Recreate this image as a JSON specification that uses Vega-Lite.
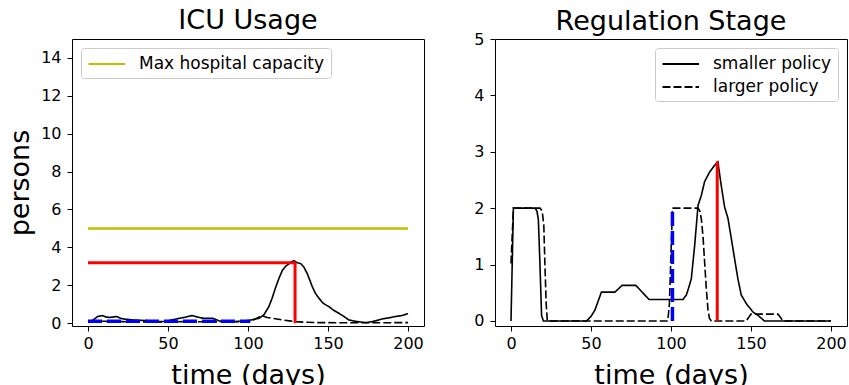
{
  "$schema": "https://vega.github.io/schema/vega-lite/v6.json",
  "background": "white",
  "padding": {"left": 6, "top": 6, "right": 0, "bottom": 0},
  "spacing": 48,
  "config": {
    "view": {"stroke": "black", "strokeWidth": 1},
    "axis": {
      "domain": false, "grid": false,
      "labelFont": "DejaVu Sans", "labelFontSize": 16, "labelColor": "black",
      "tickColor": "black", "tickSize": 5, "tickWidth": 1, "labelPadding": 4,
      "titleFont": "DejaVu Sans", "titleFontSize": 27, "titleFontWeight": "normal", "titleColor": "black"
    },
    "title": {"font": "DejaVu Sans", "fontSize": 27, "fontWeight": "normal", "color": "black", "frame": "group"},
    "legend": {
      "title": null, "labelFont": "DejaVu Sans", "labelFontSize": 17, "labelColor": "black", "labelLimit": 0,
      "symbolType": "M-1,0H3.3", "symbolSize": 289, "symbolStrokeWidth": 2.2,
      "strokeColor": "#cccccc", "fillColor": "white", "cornerRadius": 3, "padding": 6,
      "offset": 9, "rowPadding": 5, "labelOffset": 32
    }
  },
  "datasets": {
    "cap": [{"day": 0, "day2": 200, "level": 5, "label": "Max hospital capacity"}],
    "icuPeak": [
      {"x": 0, "x2": 129.4, "y": 3.19, "y2": 3.19},
      {"x": 129.4, "x2": 129.4, "y": 0, "y2": 3.19}
    ],
    "icuSwitch": [{"x": 0, "x2": 101.5, "y": 0.1, "y2": 0.1}],
    "stagePeak": [{"x": 128.9, "x2": 128.9, "y": 0, "y2": 2.83}],
    "stageSwitch": [{"x": 100.9, "x2": 100.9, "y": 0, "y2": 2}],
    "icu": [
      {"day": 0, "policy": "smaller policy", "persons": 0.08},
      {"day": 3, "policy": "smaller policy", "persons": 0.15},
      {"day": 6, "policy": "smaller policy", "persons": 0.35},
      {"day": 9, "policy": "smaller policy", "persons": 0.4},
      {"day": 11, "policy": "smaller policy", "persons": 0.33},
      {"day": 13.5, "policy": "smaller policy", "persons": 0.3},
      {"day": 16, "policy": "smaller policy", "persons": 0.33},
      {"day": 18, "policy": "smaller policy", "persons": 0.35},
      {"day": 20, "policy": "smaller policy", "persons": 0.27},
      {"day": 22, "policy": "smaller policy", "persons": 0.22},
      {"day": 25, "policy": "smaller policy", "persons": 0.2},
      {"day": 28, "policy": "smaller policy", "persons": 0.17},
      {"day": 32, "policy": "smaller policy", "persons": 0.15},
      {"day": 36, "policy": "smaller policy", "persons": 0.14},
      {"day": 41, "policy": "smaller policy", "persons": 0.11},
      {"day": 46, "policy": "smaller policy", "persons": 0.08},
      {"day": 50, "policy": "smaller policy", "persons": 0.12},
      {"day": 55, "policy": "smaller policy", "persons": 0.22},
      {"day": 60, "policy": "smaller policy", "persons": 0.3},
      {"day": 65, "policy": "smaller policy", "persons": 0.4},
      {"day": 68, "policy": "smaller policy", "persons": 0.33},
      {"day": 72, "policy": "smaller policy", "persons": 0.26},
      {"day": 78, "policy": "smaller policy", "persons": 0.26},
      {"day": 82, "policy": "smaller policy", "persons": 0.12},
      {"day": 86, "policy": "smaller policy", "persons": 0.1},
      {"day": 90, "policy": "smaller policy", "persons": 0.08},
      {"day": 95, "policy": "smaller policy", "persons": 0.1},
      {"day": 100, "policy": "smaller policy", "persons": 0.14},
      {"day": 104, "policy": "smaller policy", "persons": 0.2},
      {"day": 107, "policy": "smaller policy", "persons": 0.26},
      {"day": 110, "policy": "smaller policy", "persons": 0.45},
      {"day": 113, "policy": "smaller policy", "persons": 0.87},
      {"day": 115, "policy": "smaller policy", "persons": 1.3},
      {"day": 117.4, "policy": "smaller policy", "persons": 1.92},
      {"day": 119.5, "policy": "smaller policy", "persons": 2.4},
      {"day": 121.5, "policy": "smaller policy", "persons": 2.79},
      {"day": 123.5, "policy": "smaller policy", "persons": 3.0},
      {"day": 125.7, "policy": "smaller policy", "persons": 3.14},
      {"day": 127.5, "policy": "smaller policy", "persons": 3.25},
      {"day": 128.8, "policy": "smaller policy", "persons": 3.3},
      {"day": 130, "policy": "smaller policy", "persons": 3.22},
      {"day": 131.5, "policy": "smaller policy", "persons": 3.17},
      {"day": 133, "policy": "smaller policy", "persons": 3.14},
      {"day": 135, "policy": "smaller policy", "persons": 2.95},
      {"day": 137, "policy": "smaller policy", "persons": 2.62},
      {"day": 138.5, "policy": "smaller policy", "persons": 2.3},
      {"day": 140.2, "policy": "smaller policy", "persons": 1.92},
      {"day": 142.3, "policy": "smaller policy", "persons": 1.55},
      {"day": 144.4, "policy": "smaller policy", "persons": 1.31},
      {"day": 147, "policy": "smaller policy", "persons": 1.05},
      {"day": 150.6, "policy": "smaller policy", "persons": 0.87},
      {"day": 153.5, "policy": "smaller policy", "persons": 0.68},
      {"day": 156.8, "policy": "smaller policy", "persons": 0.52},
      {"day": 160, "policy": "smaller policy", "persons": 0.35},
      {"day": 163, "policy": "smaller policy", "persons": 0.17},
      {"day": 167, "policy": "smaller policy", "persons": 0.1},
      {"day": 171.3, "policy": "smaller policy", "persons": 0.05},
      {"day": 174, "policy": "smaller policy", "persons": 0.03},
      {"day": 177.6, "policy": "smaller policy", "persons": 0.08},
      {"day": 181, "policy": "smaller policy", "persons": 0.15},
      {"day": 183.8, "policy": "smaller policy", "persons": 0.22},
      {"day": 188, "policy": "smaller policy", "persons": 0.28},
      {"day": 192.1, "policy": "smaller policy", "persons": 0.35},
      {"day": 196, "policy": "smaller policy", "persons": 0.4},
      {"day": 200, "policy": "smaller policy", "persons": 0.5},
      {"day": 0, "policy": "larger policy", "persons": 0.1},
      {"day": 10, "policy": "larger policy", "persons": 0.1},
      {"day": 20, "policy": "larger policy", "persons": 0.08},
      {"day": 40, "policy": "larger policy", "persons": 0.06},
      {"day": 60, "policy": "larger policy", "persons": 0.08},
      {"day": 80, "policy": "larger policy", "persons": 0.07},
      {"day": 100, "policy": "larger policy", "persons": 0.08},
      {"day": 104, "policy": "larger policy", "persons": 0.2},
      {"day": 107, "policy": "larger policy", "persons": 0.33},
      {"day": 109, "policy": "larger policy", "persons": 0.38},
      {"day": 112, "policy": "larger policy", "persons": 0.3},
      {"day": 115.3, "policy": "larger policy", "persons": 0.26},
      {"day": 118, "policy": "larger policy", "persons": 0.22},
      {"day": 121.5, "policy": "larger policy", "persons": 0.17},
      {"day": 126, "policy": "larger policy", "persons": 0.12},
      {"day": 129.8, "policy": "larger policy", "persons": 0.08},
      {"day": 135, "policy": "larger policy", "persons": 0.05},
      {"day": 142.3, "policy": "larger policy", "persons": 0.03},
      {"day": 160, "policy": "larger policy", "persons": 0.02},
      {"day": 180, "policy": "larger policy", "persons": 0.02},
      {"day": 200, "policy": "larger policy", "persons": 0.03}
    ],
    "stage": [
      {"day": 0, "policy": "smaller policy", "stage": 0},
      {"day": 1.5, "policy": "smaller policy", "stage": 2},
      {"day": 15, "policy": "smaller policy", "stage": 2},
      {"day": 16.2, "policy": "smaller policy", "stage": 1.95},
      {"day": 17.1, "policy": "smaller policy", "stage": 1.8},
      {"day": 18.1, "policy": "smaller policy", "stage": 1.0},
      {"day": 19.1, "policy": "smaller policy", "stage": 0.1},
      {"day": 20.2, "policy": "smaller policy", "stage": 0},
      {"day": 47.2, "policy": "smaller policy", "stage": 0},
      {"day": 50, "policy": "smaller policy", "stage": 0.08},
      {"day": 52.4, "policy": "smaller policy", "stage": 0.19},
      {"day": 56.5, "policy": "smaller policy", "stage": 0.51},
      {"day": 64.9, "policy": "smaller policy", "stage": 0.51},
      {"day": 69.4, "policy": "smaller policy", "stage": 0.63},
      {"day": 78, "policy": "smaller policy", "stage": 0.63},
      {"day": 86.3, "policy": "smaller policy", "stage": 0.38},
      {"day": 107.5, "policy": "smaller policy", "stage": 0.38},
      {"day": 109.6, "policy": "smaller policy", "stage": 0.46},
      {"day": 111.2, "policy": "smaller policy", "stage": 0.6},
      {"day": 112.7, "policy": "smaller policy", "stage": 0.75},
      {"day": 114.8, "policy": "smaller policy", "stage": 1.34},
      {"day": 116.9, "policy": "smaller policy", "stage": 2.05},
      {"day": 119, "policy": "smaller policy", "stage": 2.23},
      {"day": 121, "policy": "smaller policy", "stage": 2.47},
      {"day": 124.1, "policy": "smaller policy", "stage": 2.64},
      {"day": 127.3, "policy": "smaller policy", "stage": 2.76},
      {"day": 129.3, "policy": "smaller policy", "stage": 2.82},
      {"day": 131.4, "policy": "smaller policy", "stage": 2.4},
      {"day": 133.5, "policy": "smaller policy", "stage": 2.02},
      {"day": 135.6, "policy": "smaller policy", "stage": 1.82},
      {"day": 137.7, "policy": "smaller policy", "stage": 1.46},
      {"day": 139.7, "policy": "smaller policy", "stage": 1.11},
      {"day": 141.8, "policy": "smaller policy", "stage": 0.75},
      {"day": 143.9, "policy": "smaller policy", "stage": 0.46},
      {"day": 147, "policy": "smaller policy", "stage": 0.31},
      {"day": 151.2, "policy": "smaller policy", "stage": 0.16},
      {"day": 154.3, "policy": "smaller policy", "stage": 0.1},
      {"day": 158.4, "policy": "smaller policy", "stage": 0},
      {"day": 200, "policy": "smaller policy", "stage": 0},
      {"day": 0, "policy": "larger policy", "stage": 1.02},
      {"day": 1.5, "policy": "larger policy", "stage": 2},
      {"day": 18.1, "policy": "larger policy", "stage": 2},
      {"day": 19.5, "policy": "larger policy", "stage": 1.95},
      {"day": 20.5, "policy": "larger policy", "stage": 1.7},
      {"day": 21.2, "policy": "larger policy", "stage": 1.0},
      {"day": 22, "policy": "larger policy", "stage": 0.3},
      {"day": 22.7, "policy": "larger policy", "stage": 0},
      {"day": 98, "policy": "larger policy", "stage": 0},
      {"day": 99, "policy": "larger policy", "stage": 0.3},
      {"day": 100, "policy": "larger policy", "stage": 1.2},
      {"day": 100.9, "policy": "larger policy", "stage": 2},
      {"day": 116.9, "policy": "larger policy", "stage": 2},
      {"day": 118, "policy": "larger policy", "stage": 1.95},
      {"day": 119, "policy": "larger policy", "stage": 1.8},
      {"day": 120, "policy": "larger policy", "stage": 1.5},
      {"day": 121, "policy": "larger policy", "stage": 1.05},
      {"day": 122, "policy": "larger policy", "stage": 0.6},
      {"day": 123.1, "policy": "larger policy", "stage": 0.2},
      {"day": 124, "policy": "larger policy", "stage": 0.05},
      {"day": 125.2, "policy": "larger policy", "stage": 0},
      {"day": 147, "policy": "larger policy", "stage": 0},
      {"day": 148.5, "policy": "larger policy", "stage": 0.06},
      {"day": 150, "policy": "larger policy", "stage": 0.12},
      {"day": 166.8, "policy": "larger policy", "stage": 0.12},
      {"day": 168.5, "policy": "larger policy", "stage": 0.06},
      {"day": 169.9, "policy": "larger policy", "stage": 0},
      {"day": 200, "policy": "larger policy", "stage": 0}
    ]
  },
  "hconcat": [
    {
      "width": 352,
      "height": 287,
      "title": {"text": "ICU Usage", "offset": 4},
      "layer": [
        {
          "data": {"name": "cap"},
          "mark": {"type": "rule", "strokeWidth": 2.5},
          "encoding": {
            "x": {"field": "day", "type": "quantitative",
                  "scale": {"domain": [-10, 210], "nice": false, "zero": false},
                  "axis": {"values": [0, 50, 100, 150, 200], "title": "time (days)", "titlePadding": 11}},
            "x2": {"field": "day2"},
            "y": {"field": "level", "type": "quantitative",
                  "scale": {"domain": [-0.15, 15], "nice": false, "zero": false},
                  "axis": {"values": [0, 2, 4, 6, 8, 10, 12, 14], "format": "d", "title": "persons", "titlePadding": 6, "labelPadding": 6}},
            "color": {"field": "label", "type": "nominal",
                      "scale": {"domain": ["Max hospital capacity"], "range": ["#bfbf00"]},
                      "legend": {"orient": "top-left"}}
          }
        },
        {
          "data": {"name": "icu"},
          "mark": {"type": "line", "color": "black", "strokeWidth": 1.6},
          "encoding": {
            "x": {"field": "day", "type": "quantitative"},
            "y": {"field": "persons", "type": "quantitative"},
            "strokeDash": {"field": "policy", "type": "nominal",
                           "scale": {"domain": ["smaller policy", "larger policy"], "range": [[1, 0], [8, 3]]},
                           "legend": null}
          }
        },
        {
          "data": {"name": "icuPeak"},
          "mark": {"type": "rule", "color": "#ff0000", "strokeWidth": 3},
          "encoding": {
            "x": {"field": "x", "type": "quantitative"},
            "x2": {"field": "x2"},
            "y": {"field": "y", "type": "quantitative"},
            "y2": {"field": "y2"}
          }
        },
        {
          "data": {"name": "icuSwitch"},
          "mark": {"type": "rule", "color": "#0000ff", "strokeWidth": 3.5, "strokeDash": [14, 5]},
          "encoding": {
            "x": {"field": "x", "type": "quantitative"},
            "x2": {"field": "x2"},
            "y": {"field": "y", "type": "quantitative"},
            "y2": {"field": "y2"}
          }
        }
      ]
    },
    {
      "width": 352,
      "height": 287,
      "title": {"text": "Regulation Stage", "offset": -5},
      "layer": [
        {
          "data": {"name": "stage"},
          "mark": {"type": "line", "color": "black", "strokeWidth": 1.6},
          "encoding": {
            "x": {"field": "day", "type": "quantitative",
                  "scale": {"domain": [-10, 210], "nice": false, "zero": false},
                  "axis": {"values": [0, 50, 100, 150, 200], "title": "time (days)", "titlePadding": 11}},
            "y": {"field": "stage", "type": "quantitative",
                  "scale": {"domain": [-0.09, 5], "nice": false, "zero": false},
                  "axis": {"values": [0, 1, 2, 3, 4, 5], "format": "d", "title": null, "labelPadding": 6}},
            "strokeDash": {"field": "policy", "type": "nominal",
                           "scale": {"domain": ["smaller policy", "larger policy"], "range": [[1, 0], [8, 3]]},
                           "legend": {"orient": "top-right", "symbolStrokeColor": "black"}}
          }
        },
        {
          "data": {"name": "stagePeak"},
          "mark": {"type": "rule", "color": "#ff0000", "strokeWidth": 3},
          "encoding": {
            "x": {"field": "x", "type": "quantitative"},
            "x2": {"field": "x2"},
            "y": {"field": "y", "type": "quantitative"},
            "y2": {"field": "y2"}
          }
        },
        {
          "data": {"name": "stageSwitch"},
          "mark": {"type": "rule", "color": "#0000ff", "strokeWidth": 3.5, "strokeDash": [14, 5]},
          "encoding": {
            "x": {"field": "x", "type": "quantitative"},
            "x2": {"field": "x2"},
            "y": {"field": "y", "type": "quantitative"},
            "y2": {"field": "y2"}
          }
        }
      ]
    }
  ],
  "resolve": {
    "scale": {"color": "independent", "strokeDash": "independent"},
    "legend": {"color": "independent", "strokeDash": "independent"}
  }
}
